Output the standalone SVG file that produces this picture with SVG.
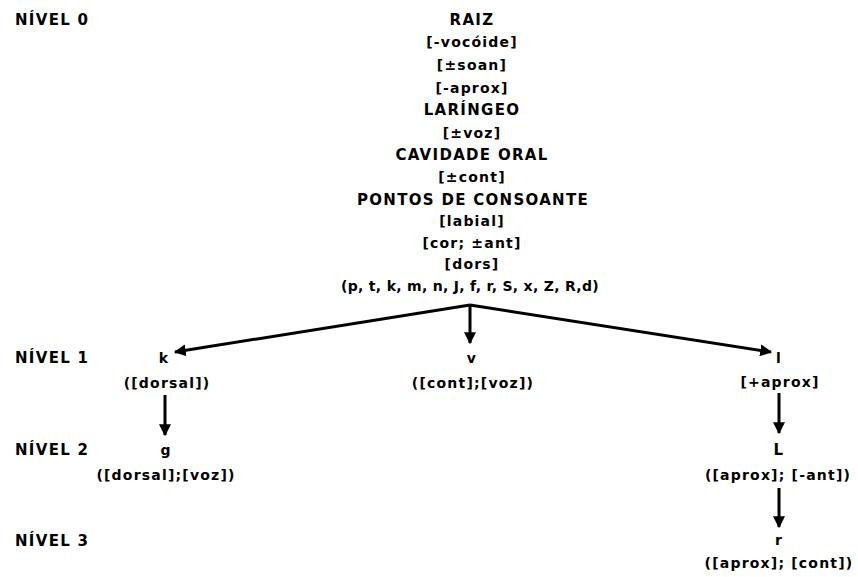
<svg xmlns="http://www.w3.org/2000/svg" width="858" height="577" viewBox="0 0 858 577">
<style>
text{font-family:"DejaVu Sans","Liberation Sans",sans-serif;font-weight:bold;font-size:14px;fill:#000;text-anchor:middle;letter-spacing:1.2px}
.cap{font-size:15px;letter-spacing:1.3px}
.lv{text-anchor:start}
.ls{letter-spacing:0.3px}
.cn{stroke:#000;stroke-width:3;fill:none}
</style>
<defs>
<marker id="ah" viewBox="0 0 10 10" refX="9" refY="5" markerWidth="4" markerHeight="4" orient="auto" markerUnits="strokeWidth">
<path d="M0,0 L10,5 L0,10 z" fill="#000"/>
</marker>
</defs>
<rect width="858" height="577" fill="#fff"/>
<g id="levels">
<text class="lv cap" x="15" y="25">NÍVEL 0</text>
<text class="lv cap" x="15" y="363">NÍVEL 1</text>
<text class="lv cap" x="15" y="455">NÍVEL 2</text>
<text class="lv cap" x="15" y="546">NÍVEL 3</text>
</g>
<g id="root">
<text class="cap" x="472" y="25">RAIZ</text>
<text x="472" y="47">[-vocóide]</text>
<text x="472" y="70">[±soan]</text>
<text x="472" y="93">[-aprox]</text>
<text class="cap" x="472" y="115">LARÍNGEO</text>
<text x="472" y="138">[±voz]</text>
<text class="cap" x="472" y="160">CAVIDADE ORAL</text>
<text x="472" y="182">[±cont]</text>
<text class="cap" x="473" y="205">PONTOS DE CONSOANTE</text>
<text x="472" y="226">[labial]</text>
<text x="472" y="248">[cor; ±ant]</text>
<text x="472" y="269">[dors]</text>
<text class="ls" x="470" y="291">(p, t, k, m, n, J, f, r, S, x, Z, R,d)</text>
</g>
<g id="node-k">
<text x="164" y="363">k</text>
<text x="167" y="388">([dorsal])</text>
</g>
<g id="node-v">
<text x="472" y="363">v</text>
<text x="473" y="388">([cont];[voz])</text>
</g>
<g id="node-l">
<text x="779" y="363">l</text>
<text x="780" y="387">[+aprox]</text>
</g>
<g id="node-g">
<text x="166" y="455">g</text>
<text x="166" y="480">([dorsal];[voz])</text>
</g>
<g id="node-L">
<text class="cap" x="779" y="455">L</text>
<text x="778" y="480">([aprox]; [-ant])</text>
</g>
<g id="node-r">
<text x="779" y="545">r</text>
<text x="779" y="568">([aprox]; [cont])</text>
</g>
<g id="connectors">
<line class="cn" x1="470" y1="305" x2="175" y2="352" marker-end="url(#ah)"/>
<line class="cn" x1="470" y1="305" x2="771" y2="352" marker-end="url(#ah)"/>
<line class="cn" x1="470" y1="305" x2="470" y2="343" marker-end="url(#ah)"/>
<line class="cn" x1="165" y1="395" x2="165" y2="435" marker-end="url(#ah)"/>
<line class="cn" x1="779" y1="393" x2="779" y2="433" marker-end="url(#ah)"/>
<line class="cn" x1="779" y1="488" x2="779" y2="527" marker-end="url(#ah)"/>
</g>
</svg>
